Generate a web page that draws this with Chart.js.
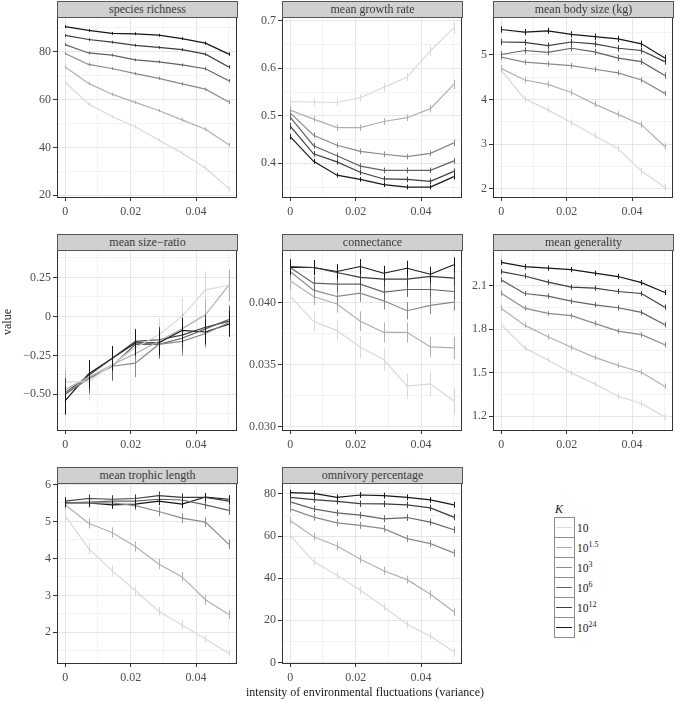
<!DOCTYPE html>
<html>
<head>
<meta charset="utf-8">
<script src="https://cdn.jsdelivr.net/npm/chart.js@4/dist/chart.umd.min.js"></script>
<style>
  body { margin:0; background:#fff; font-family:"Liberation Serif","DejaVu Serif",serif; }
  #wrap { position:relative; width:675px; height:702px; overflow:hidden; }
  #wrap canvas { position:absolute; }
  .strip { position:absolute; height:17px; box-sizing:border-box; background:#d0d0d0; border:1px solid #555;
           font-size:12px; line-height:14px; text-align:center; color:#3a3a3a; font-weight:normal; z-index:2; }
  .ytitle { position:absolute; left:-13px; top:315px; width:40px; height:14px; line-height:14px; font-size:12px;
            text-align:center; transform:rotate(-90deg); color:#1a1a1a; }
  .xtitle { position:absolute; left:165px; top:685px; width:400px; line-height:14px; font-size:12px; text-align:center; color:#1a1a1a; }
  .ktitle { position:absolute; left:555px; top:502px; font-size:12px; font-style:italic; color:#1a1a1a; }
  .keybox { position:absolute; left:554px; width:21px; height:21px; box-sizing:border-box; border:1px solid #8c8c8c; background:#fff; }
  .keyline { position:absolute; left:556px; width:16px; height:0; }
  .klab { position:absolute; left:577px; font-size:11.5px; line-height:14px; color:#1a1a1a; white-space:nowrap; }
  .klab sup { font-size:8px; vertical-align:5px; line-height:0; color:#1a1a1a; }
</style>
</head>
<body>
<div id="wrap"></div>
<script>
// ===== data =====
const xs = [0, 0.00714, 0.01429, 0.02143, 0.02857, 0.03571, 0.04286, 0.05]
const kExps = ['', '1.5', '3', '6', '12', '24']
const kColors = ['#d9d9d9', '#b0b0b0', '#8a8a8a', '#636363', '#3d3d3d', '#171717']

const xMajor = [0, 0.02, 0.04]
const xMinor = [0.01, 0.03, 0.05]
const xLabels = ['0', '0.02', '0.04']

// order of rows: K = 10, 10^1.5, 10^3, 10^6, 10^12, 10^24
const richnessMean = [
  [67.2, 58.1, 52.9, 48.6, 43.1, 37.6, 31.4, 22.8],
  [73.5, 66.7, 62.2, 58.8, 55.4, 51.5, 47.6, 41.1],
  [79.2, 74.6, 72.9, 70.8, 68.8, 66.5, 64.3, 58.9],
  [82.9, 79.4, 78.5, 76.5, 75.7, 74.4, 72.8, 67.8],
  [86.7, 85.0, 83.9, 82.6, 81.7, 80.8, 78.9, 73.5],
  [90.4, 88.8, 87.6, 87.4, 86.8, 85.4, 83.5, 78.9]
]
const richnessErr = [
  [0.8, 0.8, 0.7, 0.8, 0.8, 0.8, 0.9, 1.0],
  [0.7, 0.7, 0.7, 0.7, 0.7, 0.8, 0.8, 0.9],
  [0.6, 0.7, 0.6, 0.6, 0.7, 0.7, 0.7, 0.8],
  [0.6, 0.6, 0.6, 0.6, 0.6, 0.6, 0.7, 0.7],
  [0.6, 0.6, 0.6, 0.6, 0.6, 0.6, 0.6, 0.7],
  [0.6, 0.6, 0.6, 0.6, 0.6, 0.6, 0.7, 0.7]
]

const growthMean = [
  [0.530, 0.529, 0.528, 0.538, 0.560, 0.581, 0.637, 0.685],
  [0.512, 0.493, 0.475, 0.475, 0.488, 0.496, 0.515, 0.566],
  [0.506, 0.459, 0.438, 0.425, 0.419, 0.414, 0.421, 0.443],
  [0.497, 0.437, 0.416, 0.394, 0.385, 0.385, 0.385, 0.405],
  [0.478, 0.420, 0.403, 0.381, 0.367, 0.366, 0.362, 0.383],
  [0.456, 0.404, 0.375, 0.366, 0.355, 0.350, 0.350, 0.372]
]
const growthErr = [
  [0.010, 0.008, 0.008, 0.008, 0.009, 0.009, 0.011, 0.012],
  [0.008, 0.007, 0.007, 0.007, 0.007, 0.007, 0.008, 0.010],
  [0.007, 0.006, 0.006, 0.006, 0.006, 0.006, 0.006, 0.007],
  [0.007, 0.006, 0.006, 0.006, 0.006, 0.006, 0.006, 0.006],
  [0.007, 0.006, 0.006, 0.006, 0.006, 0.006, 0.006, 0.006],
  [0.006, 0.005, 0.005, 0.005, 0.005, 0.005, 0.005, 0.006]
]

const bodyMean = [
  [4.66, 4.02, 3.77, 3.49, 3.19, 2.90, 2.40, 2.04],
  [4.70, 4.44, 4.34, 4.16, 3.90, 3.67, 3.44, 2.95],
  [4.95, 4.84, 4.80, 4.76, 4.68, 4.60, 4.44, 4.14],
  [5.01, 5.10, 5.06, 5.15, 5.07, 4.93, 4.85, 4.54],
  [5.29, 5.28, 5.21, 5.29, 5.25, 5.15, 5.10, 4.85],
  [5.57, 5.51, 5.54, 5.46, 5.41, 5.36, 5.25, 4.93]
]
const bodyErr = [
  [0.08, 0.07, 0.07, 0.07, 0.07, 0.07, 0.07, 0.07],
  [0.07, 0.07, 0.07, 0.07, 0.07, 0.07, 0.07, 0.07],
  [0.06, 0.06, 0.06, 0.06, 0.06, 0.06, 0.06, 0.06],
  [0.07, 0.07, 0.07, 0.07, 0.07, 0.07, 0.07, 0.07],
  [0.07, 0.07, 0.07, 0.07, 0.07, 0.07, 0.07, 0.07],
  [0.07, 0.07, 0.07, 0.07, 0.07, 0.07, 0.07, 0.07]
]

const ratioMean = [
  [-0.42, -0.42, -0.31, -0.20, -0.12, 0.00, 0.17, 0.20],
  [-0.47, -0.39, -0.31, -0.24, -0.16, -0.08, 0.01, 0.20],
  [-0.49, -0.40, -0.32, -0.30, -0.18, -0.16, -0.11, -0.04],
  [-0.50, -0.40, -0.32, -0.18, -0.18, -0.14, -0.08, -0.02],
  [-0.49, -0.38, -0.27, -0.16, -0.15, -0.12, -0.07, -0.03],
  [-0.54, -0.37, -0.27, -0.17, -0.17, -0.09, -0.10, -0.05]
]
const ratioErr = [
  [0.13, 0.12, 0.11, 0.11, 0.11, 0.12, 0.12, 0.10],
  [0.12, 0.11, 0.10, 0.10, 0.10, 0.10, 0.10, 0.10],
  [0.10, 0.09, 0.09, 0.09, 0.09, 0.09, 0.09, 0.09],
  [0.10, 0.09, 0.09, 0.09, 0.09, 0.09, 0.09, 0.09],
  [0.09, 0.09, 0.08, 0.08, 0.08, 0.08, 0.08, 0.08],
  [0.09, 0.09, 0.08, 0.08, 0.08, 0.08, 0.08, 0.08]
]

const connMean = [
  [0.04048, 0.03848, 0.03773, 0.03639, 0.03540, 0.03326, 0.03345, 0.03206],
  [0.04174, 0.04048, 0.03987, 0.03848, 0.03759, 0.03759, 0.03642, 0.03634],
  [0.04249, 0.04099, 0.04048, 0.04075, 0.04013, 0.03933, 0.03976, 0.04003],
  [0.04281, 0.04155, 0.04147, 0.04147, 0.04083, 0.04104, 0.04104, 0.04088],
  [0.04289, 0.04281, 0.04241, 0.04201, 0.04187, 0.04187, 0.04209, 0.04196],
  [0.04281, 0.04281, 0.04249, 0.04289, 0.04235, 0.04275, 0.04227, 0.04303]
]
const connErr = [
  [0.0008, 0.0008, 0.0008, 0.0009, 0.0009, 0.0010, 0.0010, 0.0011],
  [0.0007, 0.0007, 0.0007, 0.0008, 0.0008, 0.0008, 0.0008, 0.0009],
  [0.0007, 0.0007, 0.0007, 0.0007, 0.0007, 0.0007, 0.0007, 0.0007],
  [0.0006, 0.0006, 0.0006, 0.0006, 0.0006, 0.0006, 0.0006, 0.0006],
  [0.0006, 0.0006, 0.0006, 0.0006, 0.0006, 0.0006, 0.0006, 0.0006],
  [0.0006, 0.0006, 0.0006, 0.0006, 0.0006, 0.0006, 0.0006, 0.0006]
]

const genMean = [
  [1.830, 1.670, 1.587, 1.498, 1.422, 1.337, 1.287, 1.193],
  [1.944, 1.827, 1.747, 1.674, 1.605, 1.550, 1.502, 1.404],
  [2.047, 1.944, 1.908, 1.892, 1.839, 1.786, 1.761, 1.692],
  [2.139, 2.045, 2.027, 1.992, 1.967, 1.947, 1.915, 1.830],
  [2.196, 2.166, 2.123, 2.089, 2.082, 2.059, 2.045, 1.951],
  [2.260, 2.230, 2.220, 2.210, 2.185, 2.162, 2.120, 2.052]
]
const genErr = [
  [0.022, 0.020, 0.020, 0.020, 0.020, 0.020, 0.021, 0.022],
  [0.020, 0.019, 0.019, 0.019, 0.019, 0.019, 0.019, 0.020],
  [0.018, 0.018, 0.018, 0.018, 0.018, 0.018, 0.018, 0.018],
  [0.018, 0.018, 0.018, 0.018, 0.018, 0.018, 0.018, 0.018],
  [0.018, 0.018, 0.018, 0.018, 0.018, 0.018, 0.018, 0.018],
  [0.018, 0.018, 0.018, 0.018, 0.018, 0.018, 0.018, 0.018]
]

const trophicMean = [
  [5.15, 4.27, 3.67, 3.13, 2.57, 2.20, 1.82, 1.43],
  [5.45, 4.95, 4.70, 4.32, 3.85, 3.50, 2.88, 2.48],
  [5.48, 5.50, 5.50, 5.43, 5.27, 5.09, 4.98, 4.38],
  [5.50, 5.52, 5.55, 5.55, 5.60, 5.58, 5.45, 5.30],
  [5.55, 5.62, 5.60, 5.62, 5.70, 5.65, 5.65, 5.55],
  [5.50, 5.50, 5.45, 5.47, 5.55, 5.47, 5.66, 5.60]
]
const trophicErr = [
  [0.15, 0.15, 0.14, 0.13, 0.12, 0.11, 0.10, 0.09],
  [0.13, 0.14, 0.14, 0.14, 0.14, 0.13, 0.13, 0.12],
  [0.12, 0.12, 0.12, 0.12, 0.13, 0.13, 0.13, 0.13],
  [0.11, 0.11, 0.11, 0.11, 0.11, 0.11, 0.11, 0.12],
  [0.11, 0.11, 0.11, 0.11, 0.11, 0.11, 0.11, 0.11],
  [0.11, 0.11, 0.11, 0.11, 0.11, 0.11, 0.11, 0.11]
]

const omniMean = [
  [60.3, 47.9, 41.4, 34.2, 26.4, 18.1, 12.4, 5.0],
  [67.4, 59.7, 55.3, 49.0, 43.5, 39.3, 32.4, 24.0],
  [72.9, 69.0, 66.3, 65.1, 63.5, 58.8, 56.4, 52.0],
  [76.2, 72.9, 71.0, 69.9, 68.2, 68.8, 66.6, 63.0],
  [78.4, 77.3, 76.5, 75.4, 75.3, 74.8, 73.4, 69.0],
  [80.6, 80.3, 78.4, 79.5, 79.2, 78.4, 77.2, 74.8]
]
const omniErr = [
  [2.0, 1.9, 1.9, 1.9, 1.9, 1.8, 1.7, 1.6],
  [1.9, 1.9, 1.9, 1.9, 1.9, 1.9, 1.9, 1.9],
  [1.7, 1.7, 1.7, 1.7, 1.7, 1.7, 1.7, 1.8],
  [1.6, 1.6, 1.6, 1.6, 1.6, 1.6, 1.6, 1.6],
  [1.5, 1.5, 1.5, 1.5, 1.5, 1.5, 1.5, 1.5],
  [1.4, 1.4, 1.4, 1.4, 1.4, 1.4, 1.4, 1.4]
]

// ===== layout =====
const colLeft = [57, 282, 493]
const rowTop = [17, 250, 483]
const plotW = 180, plotH = 180, axisW = 44, axisH = 22, padTop = 10, padRight = 6

const panels = [
  { title: 'species richness', mean: richnessMean, err: richnessErr, col: 0, row: 0,
    yMin: 19.3, yMax: 94.4, yMajor: [20, 40, 60, 80], yMinor: [30, 50, 70, 90], yLabels: ['20', '40', '60', '80'] },
  { title: 'mean growth rate', mean: growthMean, err: growthErr, col: 1, row: 0,
    yMin: 0.329, yMax: 0.708, yMajor: [0.4, 0.5, 0.6, 0.7], yMinor: [0.35, 0.45, 0.55, 0.65], yLabels: ['0.4', '0.5', '0.6', '0.7'] },
  { title: 'mean body size (kg)', mean: bodyMean, err: bodyErr, col: 2, row: 0,
    yMin: 1.82, yMax: 5.85, yMajor: [2, 3, 4, 5], yMinor: [2.5, 3.5, 4.5, 5.5], yLabels: ['2', '3', '4', '5'] },
  { title: 'mean size\u2212ratio', mean: ratioMean, err: ratioErr, col: 0, row: 1,
    yMin: -0.729, yMax: 0.426, yMajor: [-0.5, -0.25, 0, 0.25], yMinor: [-0.625, -0.375, -0.125, 0.125, 0.375], yLabels: ['\u22120.50', '\u22120.25', '0', '0.25'] },
  { title: 'connectance', mean: connMean, err: connErr, col: 1, row: 1,
    yMin: 0.02973, yMax: 0.04422, yMajor: [0.03, 0.035, 0.04], yMinor: [0.0325, 0.0375, 0.0425], yLabels: ['0.030', '0.035', '0.040'] },
  { title: 'mean generality', mean: genMean, err: genErr, col: 2, row: 1,
    yMin: 1.104, yMax: 2.345, yMajor: [1.2, 1.5, 1.8, 2.1], yMinor: [1.35, 1.65, 1.95, 2.25], yLabels: ['1.2', '1.5', '1.8', '2.1'] },
  { title: 'mean trophic length', mean: trophicMean, err: trophicErr, col: 0, row: 2,
    yMin: 1.17, yMax: 6.04, yMajor: [2, 3, 4, 5, 6], yMinor: [1.5, 2.5, 3.5, 4.5, 5.5], yLabels: ['2', '3', '4', '5', '6'] },
  { title: 'omnivory percentage', mean: omniMean, err: omniErr, col: 1, row: 2,
    yMin: -0.3, yMax: 85.2, yMajor: [0, 20, 40, 60, 80], yMinor: [10, 30, 50, 70], yLabels: ['0', '20', '40', '60', '80'] }
]

const wrap = document.getElementById('wrap')

// vertical error bars, drawn through the chart's own scales
const errorBars = {
  id: 'errorBars',
  afterDatasetsDraw(chart) {
    const { ctx, scales: { x, y } } = chart
    ctx.save()
    chart.data.datasets.forEach(ds => {
      ctx.strokeStyle = ds.borderColor
      ctx.lineWidth = 1
      ds.data.forEach((pt, j) => {
        const e = ds.err[j]
        const px = Math.round(x.getPixelForValue(pt.x)) + 0.5
        ctx.beginPath()
        ctx.moveTo(px, y.getPixelForValue(pt.y - e))
        ctx.lineTo(px, y.getPixelForValue(pt.y + e))
        ctx.stroke()
      })
    })
    ctx.restore()
  }
}

// panel border (theme_bw)
const panelBorder = {
  id: 'panelBorder',
  afterDraw(chart) {
    const { ctx, chartArea: a } = chart
    ctx.save()
    ctx.strokeStyle = '#333'
    ctx.lineWidth = 1
    ctx.strokeRect(a.left + 0.5, a.top + 0.5, a.right - a.left - 1, a.bottom - a.top)
    ctx.restore()
  }
}

function axisOpts(major, minor, labels, min, max, horizontal) {
  const isMajor = v => major.some(m => Math.abs(m - v) < 1e-9)
  return {
    type: 'linear', min, max,
    afterBuildTicks: axis => {
      axis.ticks = major.concat(minor).sort((a, b) => a - b).map(v => ({ value: v }))
    },
    afterFit: axis => {
      if (horizontal) axis.height = axisH
      else axis.width = axisW
    },
    border: { display: false },
    grid: {
      color: c => isMajor(c.tick.value) ? '#e6e6e6' : '#f3f3f3',
      tickColor: c => isMajor(c.tick.value) ? '#333' : 'rgba(0,0,0,0)',
      tickLength: 4,
      lineWidth: 1
    },
    ticks: {
      autoSkip: false, maxRotation: 0, padding: horizontal ? 4 : 2,
      color: '#4d4d4d',
      font: { family: '"Liberation Serif", serif', size: 12 },
      callback: v => {
        const i = major.findIndex(m => Math.abs(m - v) < 1e-9)
        return i >= 0 ? labels[i] : ''
      }
    }
  }
}

function renderPanel(p) {
  const left = colLeft[p.col], top = rowTop[p.row]

  const strip = document.createElement('div')
  strip.className = 'strip'
  strip.style.left = left + 'px'
  strip.style.top = (top - 16) + 'px'
  strip.style.width = (plotW + 1) + 'px'
  strip.textContent = p.title
  wrap.appendChild(strip)

  const canvas = document.createElement('canvas')
  canvas.width = axisW + plotW + padRight
  canvas.height = padTop + plotH + axisH + 2
  canvas.style.left = (left - axisW) + 'px'
  canvas.style.top = (top - padTop) + 'px'
  wrap.appendChild(canvas)

  new Chart(canvas, {
    type: 'line',
    data: {
      datasets: p.mean.map((vals, k) => ({
        label: 'K=10' + (kExps[k] ? '^' + kExps[k] : ''),
        data: xs.map((x, j) => ({ x, y: vals[j] })),
        err: p.err[k],
        borderColor: kColors[k],
        borderWidth: 1.2,
        pointRadius: 0,
        tension: 0,
        fill: false
      }))
    },
    options: {
      responsive: false, animation: false,
      layout: { padding: { top: padTop, right: padRight, bottom: 2, left: 0 } },
      plugins: { legend: { display: false }, tooltip: { enabled: false } },
      scales: {
        x: axisOpts(xMajor, xMinor, xLabels, -0.0025, 0.0525, true),
        y: axisOpts(p.yMajor, p.yMinor, p.yLabels, p.yMin, p.yMax, false)
      }
    },
    plugins: [errorBars, panelBorder]
  })
}

panels.forEach(renderPanel)

// axis titles
wrap.insertAdjacentHTML('beforeend', `
  <div class="ytitle">value</div>
  <div class="xtitle">intensity of environmental fluctuations (variance)</div>
  <div class="ktitle">K</div>
`)

// legend: key boxes, key lines, labels
kExps.forEach((e, k) => {
  const y = 517 + k * 20
  const box = document.createElement('div')
  box.className = 'keybox'
  box.style.top = y + 'px'
  wrap.appendChild(box)

  const line = document.createElement('div')
  line.className = 'keyline'
  line.style.top = (y + 10) + 'px'
  line.style.borderTop = '1.2px solid ' + kColors[k]
  wrap.appendChild(line)

  const lab = document.createElement('div')
  lab.className = 'klab'
  lab.style.top = (y + 4) + 'px'
  lab.innerHTML = '10' + (e ? '<sup>' + e + '</sup>' : '')
  wrap.appendChild(lab)
})
</script>
</body>
</html>
